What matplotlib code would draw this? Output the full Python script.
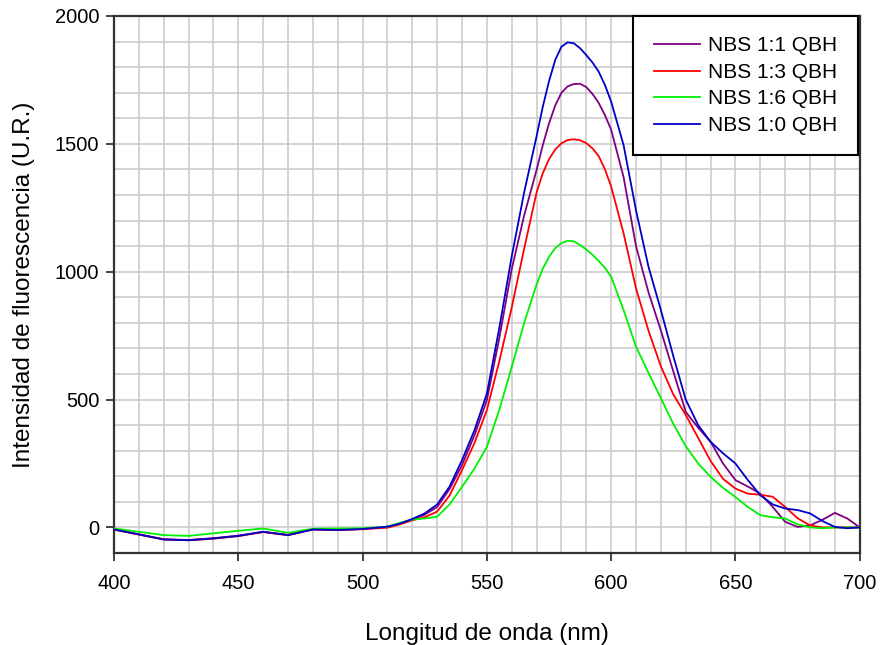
import numpy as np
import matplotlib
matplotlib.use("Agg")
import matplotlib.pyplot as plt
from matplotlib.ticker import MultipleLocator

plt.rcParams['font.family'] = ['Liberation Sans', 'DejaVu Sans']

# wavelength (nm): 10 nm steps up to 510, 5 nm steps, 2.5 nm around the peak
wl = (list(range(400, 511, 10)) + list(range(515, 566, 5))
      + [570, 572.5, 575, 577.5, 580, 582.5, 585, 587.5, 590, 592.5, 595, 597.5, 600]
      + list(range(605, 701, 5)))

nbs_1_1 = [-8, -27, -46, -49, -42, -32, -17, -29, -7, -10, -6, 3,
           14, 31, 50, 80, 150, 244, 360, 498, 740, 1010, 1220,
           1398, 1495, 1580, 1650, 1700, 1725, 1734, 1735, 1722, 1695, 1660, 1612, 1555,
           1370, 1100, 920, 770, 610, 452, 390, 335, 250, 185,
           160, 132, 80, 22, 2, 8, 30, 57, 35, 0]
nbs_1_3 = [-8, -28, -47, -50, -44, -34, -18, -30, -8, -10, -7, -1,
           12, 28, 40, 62, 125, 224, 330, 459, 650, 860, 1090,
           1310, 1385, 1440, 1478, 1502, 1515, 1518, 1514, 1503, 1482, 1452, 1400, 1333,
           1150, 935, 770, 630, 520, 440, 350, 260, 190, 152,
           132, 128, 120, 80, 36, 8, 0, 0, 0, 0]
nbs_1_6 = [-4, -17, -30, -33, -23, -13, -4, -21, -5, -4, -3, 3,
           18, 31, 35, 42, 90, 159, 230, 315, 460, 627, 800,
           950, 1012, 1058, 1092, 1112, 1121, 1119, 1104, 1087, 1066, 1042, 1015, 980,
           850, 707, 605, 505, 405, 318, 250, 198, 155, 119,
           80, 48, 40, 35, 12, 0, -3, 0, 0, 0]
nbs_1_0 = [-8, -27, -47, -50, -43, -33, -17, -30, -8, -10, -6, 3,
           15, 33, 55, 90, 160, 263, 380, 523, 780, 1060, 1310,
           1530, 1645, 1745, 1828, 1880, 1897, 1893, 1874, 1847, 1818, 1782, 1730, 1665,
           1495, 1240, 1020, 850, 670, 500, 400, 335, 290, 250,
           185, 126, 90, 74, 68, 55, 25, 2, -3, 0]

series = [
    ("NBS 1:1 QBH", nbs_1_1, "#800080"),
    ("NBS 1:3 QBH", nbs_1_3, "#ff0000"),
    ("NBS 1:6 QBH", nbs_1_6, "#00f000"),
    ("NBS 1:0 QBH", nbs_1_0, "#0000c8"),
]

fig = plt.figure(figsize=(8.8, 6.45), dpi=100)
ax = fig.add_axes([0.1295, 0.1426, 0.8475, 0.8326])

for name, vals, col in series:
    ax.plot(wl, vals, color=col, lw=1.3, label=name, zorder=3)

ax.set_xlim(400, 700)
ax.set_ylim(-100, 2000)
ax.xaxis.set_major_locator(MultipleLocator(50))
ax.xaxis.set_minor_locator(MultipleLocator(10))
ax.yaxis.set_major_locator(MultipleLocator(500))
ax.yaxis.set_minor_locator(MultipleLocator(100))
ax.grid(which='both', color='#c8c8c8', lw=1.1, zorder=0)
ax.set_axisbelow(True)
ax.tick_params(which='major', direction='out', length=6, width=1.3,
               color='#333333', labelsize=14.5)
ax.tick_params(axis='x', which='major', pad=9)
ax.tick_params(axis='y', which='major', pad=4.5)
ax.tick_params(which='minor', length=0)
for s in ax.spines.values():
    s.set_color('#333333')
    s.set_linewidth(1.6)

ax.set_xlabel("Longitud de onda (nm)", fontsize=17.5, labelpad=22)
ax.set_ylabel("Intensidad de fluorescencia (U.R.)", fontsize=17.5, labelpad=14)

leg = ax.legend(loc='upper right', bbox_to_anchor=(0.997, 1.0), borderaxespad=0,
                fontsize=15, fancybox=False, framealpha=1, edgecolor='black',
                handlelength=2.2, handletextpad=0.4, labelspacing=0.36,
                borderpad=0.98)
leg.get_frame().set_linewidth(1.5)

fig.savefig("out.png", dpi=100)
